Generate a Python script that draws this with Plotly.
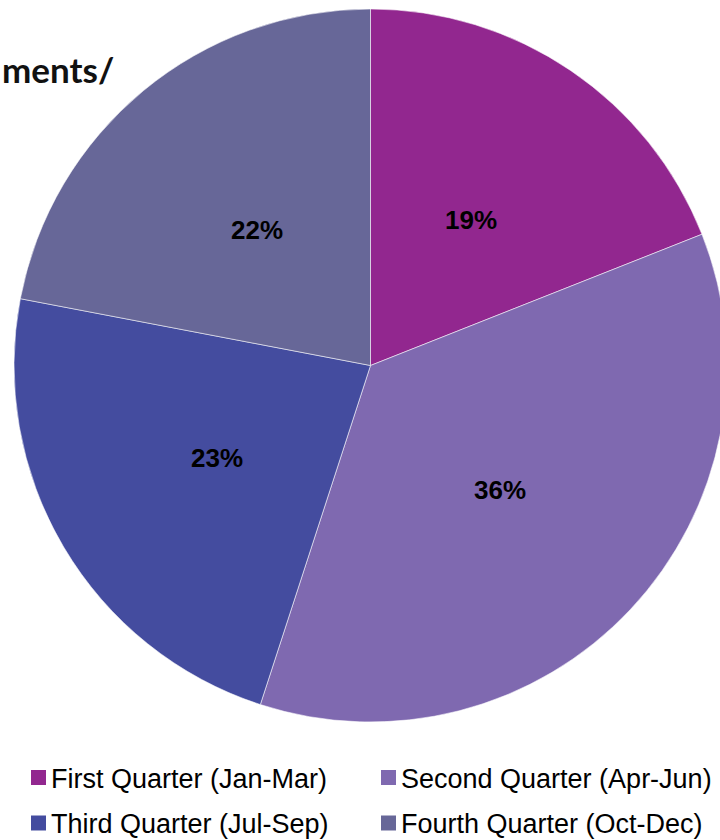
import math
import plotly.graph_objects as go

# Share of the year by quarter
quarters = [
    "First Quarter (Jan-Mar)",
    "Second Quarter (Apr-Jun)",
    "Third Quarter (Jul-Sep)",
    "Fourth Quarter (Oct-Dec)",
]
shares = [19, 36, 23, 22]
colors = ["#92278f", "#7f69b0", "#444c9f", "#676798"]
title_text = "ments/"

# Canvas and pie geometry (pixels)
W, H = 740, 840
PIE_LEFT, PIE_TOP, PIE_R = 14, 9, 356.5
cx_px = PIE_LEFT + PIE_R
cy_px = PIE_TOP + PIE_R


def px_x(x):
    return x / W


def px_y(y):
    return 1 - y / H


fig = go.Figure(
    go.Pie(
        labels=quarters,
        values=shares,
        sort=False,
        direction="clockwise",
        rotation=0,
        marker=dict(colors=colors, line=dict(color="rgba(255,255,255,0.55)", width=1)),
        textinfo="none",
        hoverinfo="label+percent",
        showlegend=False,
        domain=dict(
            x=[px_x(PIE_LEFT), px_x(PIE_LEFT + 2 * PIE_R)],
            y=[px_y(PIE_TOP + 2 * PIE_R), px_y(PIE_TOP)],
        ),
    )
)

annotations = []
shapes = []

# Percentage labels placed halfway out along each slice's bisector
total = sum(shares)
cum = 0
for v in shares:
    mid = (cum + v / 2) / total * 2 * math.pi
    cum += v
    lx = cx_px + 0.5 * PIE_R * math.sin(mid)
    ly = cy_px - 0.5 * PIE_R * math.cos(mid) + 2
    annotations.append(dict(
        x=px_x(lx), y=px_y(ly), xref="paper", yref="paper",
        text=f"<b>{round(v / total * 100)}%</b>", showarrow=False,
        xanchor="center", yanchor="middle",
        font=dict(family="Liberation Sans, Arial, sans-serif", size=26, color="#000000"),
    ))

# Partially visible heading at the top left
annotations.append(dict(
    x=px_x(116), y=px_y(69), xref="paper", yref="paper",
    text=f"<b>{title_text}</b>", showarrow=False,
    xanchor="right", yanchor="middle", xshift=0,
    font=dict(family="Lato, Open Sans, sans-serif", size=35, color="#111111"),
))

# Two-column legend below the pie
COL_X = [31, 381]
ROW_Y = [777.5, 823]
SQ = 15
for i, (name, c) in enumerate(zip(quarters, colors)):
    x0 = COL_X[i % 2]
    yc = ROW_Y[i // 2]
    shapes.append(dict(
        type="rect", xref="paper", yref="paper",
        x0=px_x(x0), x1=px_x(x0 + SQ),
        y0=px_y(yc + SQ / 2), y1=px_y(yc - SQ / 2),
        fillcolor=c, line=dict(width=0),
    ))
    annotations.append(dict(
        x=px_x(x0 + SQ + 3), y=px_y(yc + 1), xref="paper", yref="paper",
        text=name, showarrow=False, xanchor="left", yanchor="middle",
        font=dict(family="Liberation Sans, Arial, sans-serif", size=27, color="#000000"),
    ))

fig.update_layout(
    width=W, height=H,
    margin=dict(l=0, r=0, t=0, b=0),
    paper_bgcolor="#ffffff",
    plot_bgcolor="#ffffff",
    annotations=annotations,
    shapes=shapes,
)

fig.write_html(
    "out.html",
    post_script="document.documentElement.style.overflow='hidden';"
                "document.body.style.overflow='hidden';",
)
